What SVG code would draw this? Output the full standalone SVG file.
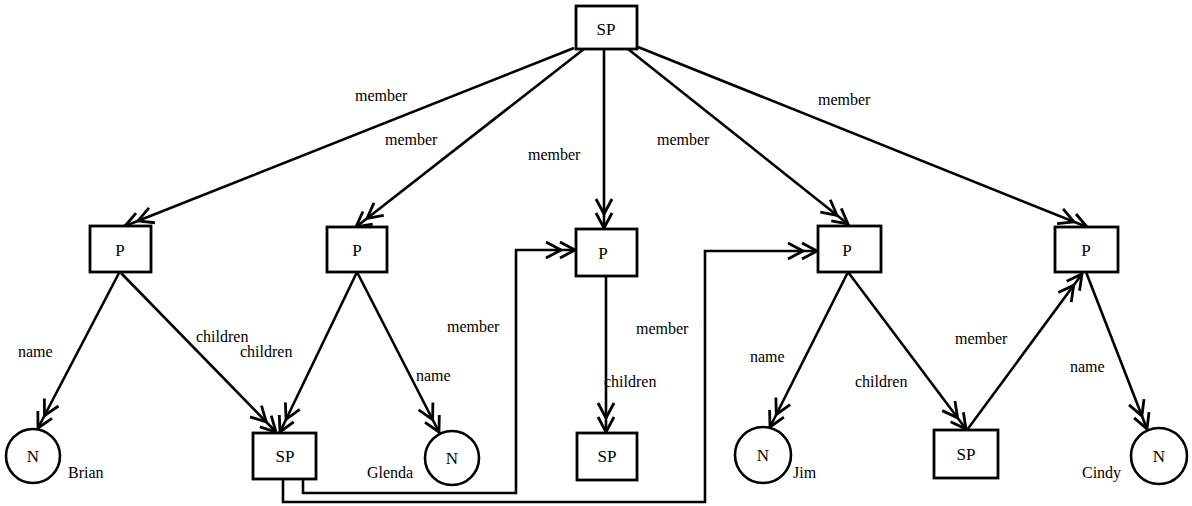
<svg xmlns="http://www.w3.org/2000/svg" width="1192" height="506" viewBox="0 0 1192 506">
<style>
.box{fill:#fff;stroke:#000;stroke-width:2.8}
.circ{fill:#fff;stroke:#000;stroke-width:2.6}
.edge{fill:none;stroke:#000;stroke-width:2.6;marker-end:url(#arr)}
.wire{fill:none;stroke:#000;stroke-width:2.6}
.lbl{font-family:"Liberation Serif",serif;font-size:16px;fill:#000}
.nt{font-family:"Liberation Serif",serif;font-size:17px;fill:#000;text-anchor:middle;dominant-baseline:central}
</style>
<defs>
<marker id="arr" markerUnits="userSpaceOnUse" viewBox="-34 -11 36 22" refX="0" refY="0" markerWidth="36" markerHeight="22" orient="auto">
<path d="M-15,-8 L0,0 L-15,8 M-29,-8 L-14,0 L-29,8" fill="none" stroke="#000" stroke-width="2.8"/>
</marker>
</defs>
<g id="connectors">
<line class="edge" x1="574" y1="48" x2="125" y2="226"/>
<line class="edge" x1="584" y1="49" x2="356" y2="227"/>
<line class="edge" x1="604" y1="49" x2="604" y2="228"/>
<line class="edge" x1="628" y1="49" x2="848" y2="224"/>
<line class="edge" x1="638" y1="47" x2="1087" y2="227"/>
<line class="edge" x1="119" y1="273" x2="38" y2="428"/>
<line class="edge" x1="121" y1="273" x2="276" y2="432"/>
<line class="edge" x1="357" y1="272" x2="280" y2="432"/>
<line class="edge" x1="357" y1="272" x2="439" y2="432"/>
<line class="edge" x1="606" y1="276" x2="606" y2="432"/>
<line class="edge" x1="848" y1="272" x2="770" y2="427"/>
<line class="edge" x1="848" y1="272" x2="966" y2="429"/>
<line class="edge" x1="967" y1="430" x2="1082" y2="274"/>
<line class="edge" x1="1086" y1="272" x2="1147" y2="429"/>
<path class="wire" d="M303,479 V493 H516 V250 H575" marker-end="url(#arr)"/>
<path class="wire" d="M283,479 V502 H705 V251 H817" marker-end="url(#arr)"/>
<text class="lbl" x="355" y="101">member</text>
<text class="lbl" x="385" y="145">member</text>
<text class="lbl" x="528" y="160">member</text>
<text class="lbl" x="657" y="145">member</text>
<text class="lbl" x="818" y="105">member</text>
<text class="lbl" x="447" y="332">member</text>
<text class="lbl" x="636" y="334">member</text>
<text class="lbl" x="955" y="344">member</text>
<text class="lbl" x="18" y="357">name</text>
<text class="lbl" x="416" y="381">name</text>
<text class="lbl" x="750" y="362">name</text>
<text class="lbl" x="1070" y="372">name</text>
<text class="lbl" x="196" y="342">children</text>
<text class="lbl" x="240" y="357">children</text>
<text class="lbl" x="604" y="387">children</text>
<text class="lbl" x="855" y="387">children</text>
</g>
<g id="sp-top"><rect class="box" x="576" y="6" width="61" height="43"/><text class="nt" x="606" y="29">SP</text></g>
<g id="p1"><rect class="box" x="90" y="226" width="61" height="46"/><text class="nt" x="120" y="250">P</text></g>
<g id="p2"><rect class="box" x="327" y="227" width="60" height="45"/><text class="nt" x="357" y="250">P</text></g>
<g id="p3"><rect class="box" x="576" y="229" width="61" height="47"/><text class="nt" x="603" y="253">P</text></g>
<g id="p4"><rect class="box" x="818" y="226" width="63" height="46"/><text class="nt" x="847" y="250">P</text></g>
<g id="p5"><rect class="box" x="1055" y="227" width="63" height="45"/><text class="nt" x="1086" y="250">P</text></g>
<g id="n-brian"><circle class="circ" cx="33" cy="456" r="27"/><text class="nt" x="33" y="456">N</text><text class="lbl" x="68" y="478">Brian</text></g>
<g id="sp-left"><rect class="box" x="253" y="433" width="63" height="46"/><text class="nt" x="285" y="456">SP</text></g>
<g id="n-glenda"><circle class="circ" cx="452" cy="458" r="27"/><text class="nt" x="452" y="458">N</text><text class="lbl" x="367" y="478">Glenda</text></g>
<g id="sp-center"><rect class="box" x="577" y="433" width="60" height="47"/><text class="nt" x="607" y="456">SP</text></g>
<g id="n-jim"><circle class="circ" cx="763" cy="455" r="28"/><text class="nt" x="763" y="455">N</text><text class="lbl" x="793" y="478">Jim</text></g>
<g id="sp-right"><rect class="box" x="934" y="430" width="64" height="48"/><text class="nt" x="966" y="454">SP</text></g>
<g id="n-cindy"><circle class="circ" cx="1159" cy="456" r="28"/><text class="nt" x="1159" y="456">N</text><text class="lbl" x="1082" y="478">Cindy</text></g>
</svg>
